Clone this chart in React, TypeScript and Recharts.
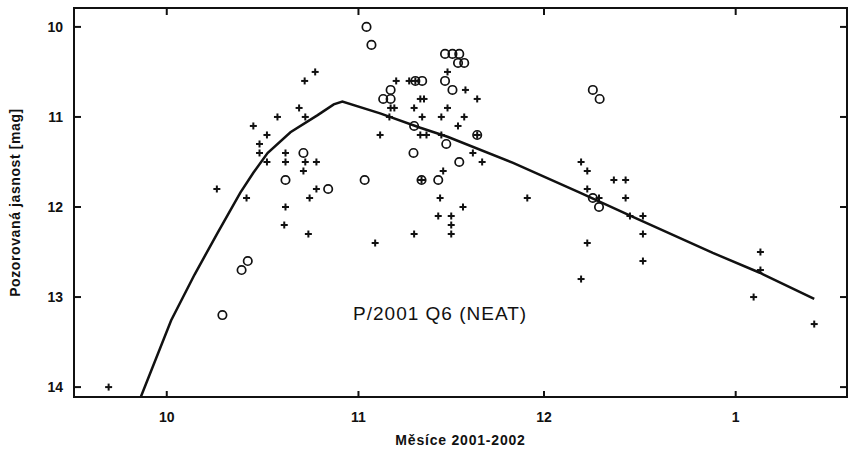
import React from 'react';
import { ComposedChart, Line, Scatter, XAxis, YAxis, ReferenceDot, ReferenceArea } from 'recharts';

// x = days counted from 1 Oct 2001, y = magnitude
const monthStarts = [0, 31, 61, 92];
const monthLabels = ['10', '11', '12', '1'];
const magTicks = [10, 11, 12, 13, 14];

const plusDays = [
  -9.4, 8.1, 12.9, 14.0, 15.0, 15.0, 16.2, 16.2, 17.9, 19.2, 19.2, 19.2, 19.0, 21.4, 22.3,
  24.0, 22.4, 22.4, 24.2, 22.1, 24.2, 23.1, 22.9, 33.7, 34.5, 36.2, 36.8, 36.0, 37.1, 39.2,
  40.2, 41.0, 41.6, 40.0, 41.3, 41.0, 42.0, 41.2, 40.0, 45.4, 48.3, 50.2, 45.4, 44.4, 48.1,
  47.1, 50.2, 44.4, 49.5, 51.0, 44.7, 44.2, 47.9, 43.9, 46.0, 46.0, 46.0, 58.3, 67.0, 68.0,
  68.0, 69.9, 72.3, 74.2, 74.2, 74.9, 77.0, 77.0, 68.0, 77.0, 67.0, 96.0, 96.0, 94.9, 104.7,
];
const plusMags = [
  14.0, 11.8, 11.9, 11.1, 11.3, 11.4, 11.2, 11.5, 11.0, 11.4, 11.5, 12.0, 12.2, 10.9, 10.6,
  10.5, 11.0, 11.5, 11.5, 11.6, 11.8, 11.9, 12.3, 12.4, 11.2, 10.9, 10.9, 11.0, 10.6, 10.6,
  10.6, 10.8, 10.8, 10.9, 11.0, 11.2, 11.2, 11.7, 12.3, 10.5, 10.7, 10.8, 10.9, 11.0, 11.0,
  11.1, 11.2, 11.2, 11.4, 11.5, 11.6, 11.9, 12.0, 12.1, 12.1, 12.2, 12.3, 11.9, 11.5, 11.6,
  11.8, 11.9, 11.7, 11.7, 11.9, 12.1, 12.1, 12.3, 12.4, 12.6, 12.8, 12.5, 12.7, 13.0, 13.3,
];

const circleDays = [
  9.0, 12.1, 13.1, 19.2, 22.1, 26.1, 32.3, 33.1, 32.0, 35.0, 36.2, 36.2, 40.2, 41.3, 40.0,
  39.9, 41.2, 43.9, 45.0, 46.2, 47.3, 47.1, 48.1, 45.0, 46.2, 50.2, 45.2, 47.3, 68.9, 70.0,
  68.9, 69.9,
];
const circleMags = [
  13.2, 12.7, 12.6, 11.7, 11.4, 11.8, 10.0, 10.2, 11.7, 10.8, 10.8, 10.7, 10.6, 10.6, 11.1,
  11.4, 11.7, 11.7, 10.3, 10.3, 10.3, 10.4, 10.4, 10.6, 10.7, 11.2, 11.3, 11.5, 10.7, 10.8,
  11.9, 12.0,
];

const curveDays = [-4.2, 0.7, 4.5, 8.2, 11.9, 14.0, 16.3, 20.0, 24.4, 27.0, 28.4, 34.5, 41.0, 45.4, 56.0, 66.8, 76.0, 88.3, 95.9, 104.7];
const curveMags = [14.11, 13.26, 12.75, 12.29, 11.84, 11.62, 11.4, 11.17, 10.98, 10.86, 10.83, 10.96, 11.12, 11.22, 11.51, 11.84, 12.13, 12.51, 12.73, 13.02];

const title = 'P/2001 Q6 (NEAT)';
const titleDay = 44.2;
const titleMag = 13.18;

const X_MIN = -15;
const X_MAX = 110;
const Y_MIN = 9.79;
const Y_MAX = 14.11;
const xDomain = [X_MIN, X_MAX];
const yDomain = [Y_MIN, Y_MAX];

const plusData = plusDays.map((d, i) => ({ day: d, mag: plusMags[i] }));
const circleData = circleDays.map((d, i) => ({ day: d, mag: circleMags[i] }));
const curveData = curveDays.map((d, i) => ({ day: d, mag: curveMags[i] }));

const FONT = '"Liberation Sans", Arial, Helvetica, sans-serif';
const INK = '#111';

const CHART_W = 852;
const CHART_H = 450;
const margin = { top: 8, right: 5, bottom: 0, left: 0 };
const PLOT_TOP = margin.top;
const PLOT_RIGHT = CHART_W - margin.right;

const Plus = (props: any) => {
  const { cx, cy } = props;
  return (
    <g>
      <line x1={cx - 3.5} y1={cy} x2={cx + 3.5} y2={cy} stroke={INK} strokeWidth={2} />
      <line x1={cx} y1={cy - 3.5} x2={cx} y2={cy + 3.5} stroke={INK} strokeWidth={2} />
    </g>
  );
};

const Ring = (props: any) => (
  <circle cx={props.cx} cy={props.cy} r={4.2} fill="none" stroke={INK} strokeWidth={1.7} />
);

const BOTTOM_GAP = 15;
const LEFT_GAP = 11;

// bottom tick + its mirrored tick on the top edge
const BottomTick = (props: any) => {
  const { x, y, payload } = props;
  const axisY = y - BOTTOM_GAP;
  return (
    <g>
      <line x1={x} y1={axisY} x2={x} y2={axisY - 6} stroke={INK} strokeWidth={2} />
      <line x1={x} y1={PLOT_TOP} x2={x} y2={PLOT_TOP + 7} stroke={INK} strokeWidth={2} />
      <text x={x} y={y} dy="0.71em" textAnchor="middle" fontFamily={FONT} fontWeight="bold" fontSize={14} fill={INK}>
        {monthLabels[monthStarts.indexOf(payload.value)]}
      </text>
    </g>
  );
};

// left tick + its mirrored tick on the right edge
const LeftTick = (props: any) => {
  const { x, y, payload } = props;
  const axisX = x + LEFT_GAP;
  return (
    <g>
      <line x1={axisX} y1={y} x2={axisX + 7} y2={y} stroke={INK} strokeWidth={2} />
      <line x1={PLOT_RIGHT} y1={y} x2={PLOT_RIGHT - 7} y2={y} stroke={INK} strokeWidth={2} />
      <text x={x} y={y} dy="0.355em" textAnchor="end" fontFamily={FONT} fontWeight="bold" fontSize={14} fill={INK}>
        {payload.value}
      </text>
    </g>
  );
};

const YTitle = (props: any) => {
  const { x, y, height } = props.viewBox;
  const cx = x + 15;
  const cy = y + height / 2;
  return (
    <text x={cx} y={cy} transform={`rotate(-90, ${cx}, ${cy})`} textAnchor="middle" dominantBaseline="central"
      fontFamily={FONT} fontWeight="bold" fontSize={14} letterSpacing={0.6} fill={INK}>
      Pozorovaná jasnost [mag]
    </text>
  );
};

// x title, plus the top and right sides of the frame
const XTitle = (props: any) => {
  const { x, y, width } = props.viewBox;
  const right = x + width;
  return (
    <g>
      <path d={`M ${x} ${PLOT_TOP} H ${right} V ${y}`} fill="none" stroke={INK} strokeWidth={2} />
      <text x={x + width / 2} y={y + 48} textAnchor="middle" fontFamily={FONT} fontWeight="bold" fontSize={14}
        letterSpacing={0.8} fill={INK}>
        Měsíce 2001-2002
      </text>
    </g>
  );
};

const axisLine = { stroke: INK, strokeWidth: 2 };
const titleLabel = { value: title, position: 'center', fontFamily: FONT, fontSize: 19, letterSpacing: 1, fill: INK };

const bottomTick = (p: any) => <BottomTick {...p} />;
const leftTick = (p: any) => <LeftTick {...p} />;
const xTitle = (p: any) => <XTitle {...p} />;
const yTitle = (p: any) => <YTitle {...p} />;
const plusShape = (p: any) => <Plus {...p} />;
const ringShape = (p: any) => <Ring {...p} />;

export default function App() {
  return (
    <div style={{ position: 'absolute', left: 0, top: 0, background: '#fff' }}>
      <ComposedChart width={CHART_W} height={CHART_H} margin={margin}>
        <XAxis
          dataKey="day"
          type="number"
          domain={xDomain}
          ticks={monthStarts}
          interval={0}
          height={53}
          tickSize={0}
          tickLine={false}
          tickMargin={BOTTOM_GAP}
          axisLine={axisLine}
          tick={bottomTick}
          label={xTitle}
          allowDataOverflow
        />
        <YAxis
          dataKey="mag"
          type="number"
          reversed
          domain={yDomain}
          ticks={magTicks}
          interval={0}
          width={74}
          tickSize={0}
          tickLine={false}
          tickMargin={LEFT_GAP}
          axisLine={axisLine}
          tick={leftTick}
          label={yTitle}
          allowDataOverflow
        />
        {/* plot frame */}
        <ReferenceArea x1={X_MIN} x2={X_MAX} y1={Y_MIN} y2={Y_MAX} stroke={INK} strokeWidth={2} fill="none" fillOpacity={0} ifOverflow="visible" />
        <Line
          data={curveData}
          dataKey="mag"
          type="linear"
          stroke={INK}
          strokeWidth={2.5}
          dot={false}
          activeDot={false}
          isAnimationActive={false}
        />
        <Scatter data={plusData} dataKey="mag" shape={plusShape} isAnimationActive={false} />
        <Scatter data={circleData} dataKey="mag" shape={ringShape} isAnimationActive={false} />
        <ReferenceDot x={titleDay} y={titleMag} r={1} fill="none" stroke="none" label={titleLabel} />
      </ComposedChart>
    </div>
  );
}
